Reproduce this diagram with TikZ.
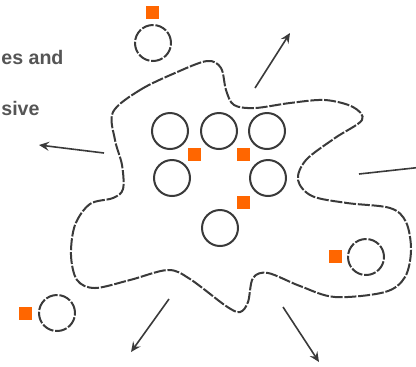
\documentclass[tikz,border=0pt]{standalone}
\usepackage{fontspec}
\setmainfont{Liberation Sans}
\usetikzlibrary{arrows.meta}
\definecolor{cargo}{HTML}{FF6600}
\definecolor{membrane}{HTML}{3A3A3A}
\definecolor{caption}{HTML}{555555}

\begin{document}
\begin{tikzpicture}[x=0.5pt, y=-0.5pt,
    vesicle/.style={draw=membrane, line width=1pt},
    ghost/.style={draw=membrane, line width=1pt, dash pattern=on 6pt off 0.9pt},
    flow/.style={draw=membrane, line width=0.8pt, -{Stealth[length=5pt, width=4.5pt, inset=1.8pt]}},
    label/.style={anchor=base west, inner sep=0pt, text=caption, font=\bfseries\fontsize{9.8}{12}\selectfont}]
            \useasboundingbox (0,0) rectangle (416,366);

            % cut-off labels
            \node[label] (lblA) at (1,64) {es and};
            \node[label] (lblB) at (1,115) {sive};

            % cell outline
            \draw[ghost] plot[smooth cycle, tension=0.55] coordinates {
                (113,112) (140,90) (175,73) (207,61) (221,68) (226,90) (234,105)
                (255,108) (290,103) (325,100) (353,107) (362,120) (335,138)
                (306,160) (298,180) (312,196) (347,203) (390,208) (406,222)
                (411,250) (405,277) (385,292) (335,297) (300,286) (268,273)
                (253,278) (248,302) (240,312) (226,306) (190,279) (168,270)
                (130,280) (95,288) (77,280) (71,255) (75,225) (90,204)
                (113,198) (123,189) (122,165) (115,140)};

            % vesicles inside
            \draw[vesicle] (170,131) circle (9pt);
            \draw[vesicle] (219,131) circle (9pt);
            \draw[vesicle] (267,131) circle (9pt);
            \draw[vesicle] (172,178) circle (9pt);
            \draw[vesicle] (268,178) circle (9pt);
            \draw[vesicle] (220,228) circle (9pt);

            % dashed vesicles
            \draw[ghost] (153,43) circle (9pt);
            \draw[ghost] (57,313) circle (9pt);
            \draw[ghost] (366,257) circle (9pt);

            % cargo
            \fill[cargo] (194,154) ++(-6.5,-6.5) rectangle ++(13,13);
            \fill[cargo] (243,154) ++(-6.5,-6.5) rectangle ++(13,13);
            \fill[cargo] (243,202) ++(-6.5,-6.5) rectangle ++(13,13);
            \fill[cargo] (152,12) ++(-6.5,-6.5) rectangle ++(13,13);
            \fill[cargo] (25,313) ++(-6.5,-6.5) rectangle ++(13,13);
            \fill[cargo] (335,256) ++(-6.5,-6.5) rectangle ++(13,13);

            % arrows
            \draw[flow] (255,88) -- (290,33);
            \draw[flow] (104,153) -- (39,145);
            \draw[flow] (359,174) -- (432,166);
            \draw[flow] (169,299) -- (131,352);
            \draw[flow] (283,307) -- (319,362);
\end{tikzpicture}
\end{document}
